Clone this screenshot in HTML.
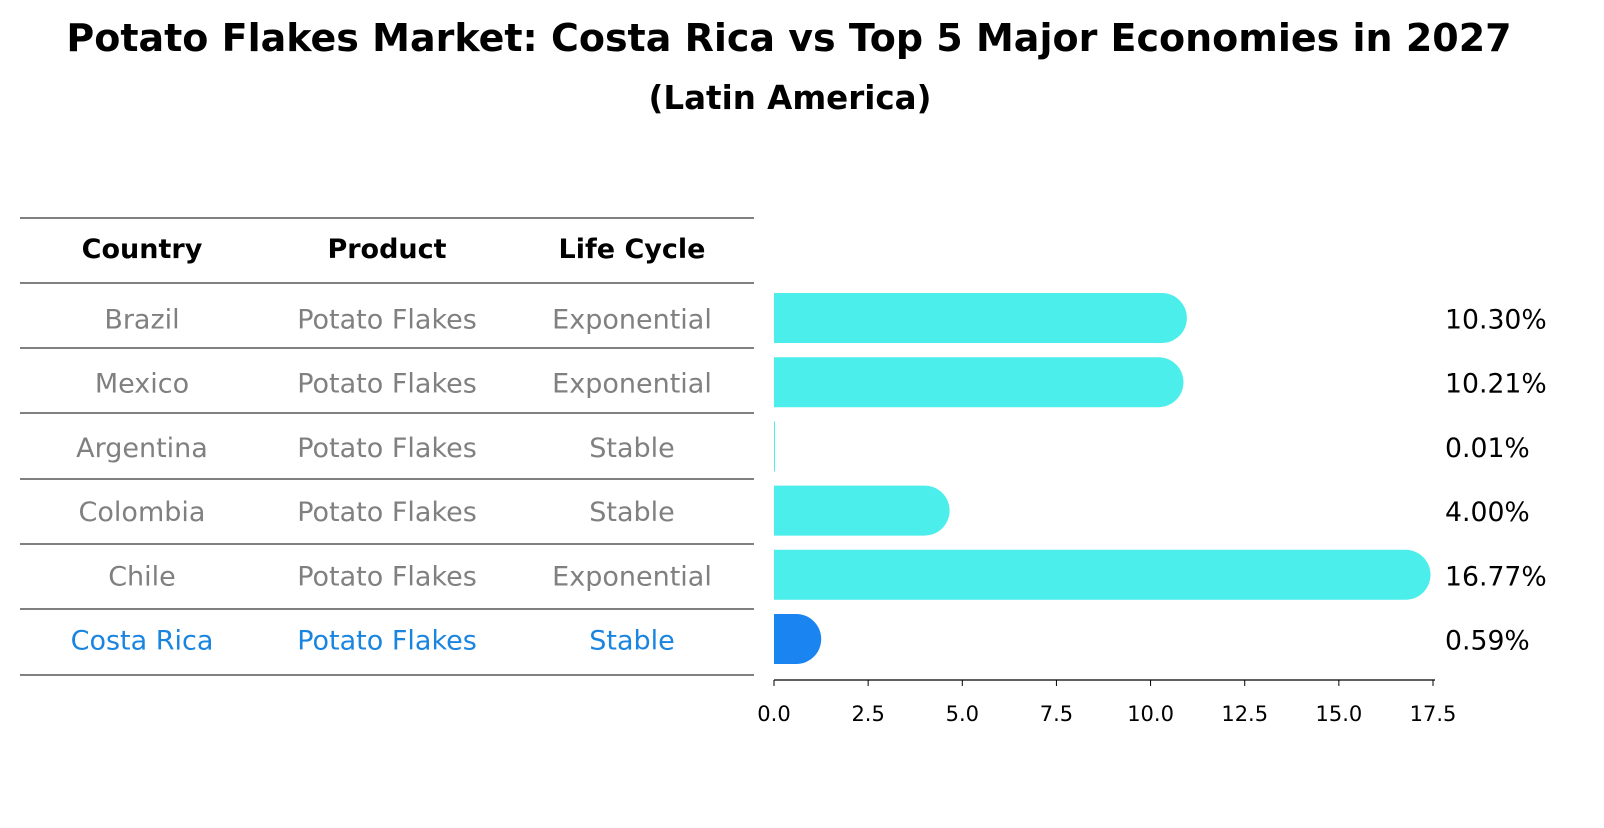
<!DOCTYPE html>
<html><head><meta charset="utf-8"><style>
body{margin:0;background:#fff;font-family:"Liberation Sans","DejaVu Sans",sans-serif;}
svg text{font-family:"DejaVu Sans","Liberation Sans",sans-serif;}
</style></head><body>
<svg width="1604" height="823" xmlns="http://www.w3.org/2000/svg">
<text x="789" y="51" text-anchor="middle" font-size="38" font-weight="bold">Potato Flakes Market: Costa Rica vs Top 5 Major Economies in 2027</text>
<text x="790" y="109" text-anchor="middle" font-size="32.5" font-weight="bold">(Latin America)</text>
<g id="table"></g>
<g id="bars"></g>
</svg>
<script>
const countries=["Brazil","Mexico","Argentina","Colombia","Chile","Costa Rica"];
const products=["Potato Flakes","Potato Flakes","Potato Flakes","Potato Flakes","Potato Flakes","Potato Flakes"];
const lifeCycles=["Exponential","Exponential","Stable","Stable","Exponential","Stable"];
const values=[10.30,10.21,0.01,4.00,16.77,0.59];
const ticks=[0,2.5,5,7.5,10,12.5,15,17.5];
const NS="http://www.w3.org/2000/svg";
function mk(t,a,p){const e=document.createElementNS(NS,t);for(const k in a)e.setAttribute(k,a[k]);p.appendChild(e);return e;}
const x0=774,pxPer=659/17.5;
const xs=v=>x0+v*pxPer;
const rowY=i=>318+i*64.2;
const tbl=document.getElementById('table');
const lineYs=[218,283,348,413,479,544,609,675];
lineYs.forEach((y,i)=>{const l=mk('line',{x1:20,x2:754,y1:y,y2:y,stroke:'#000','stroke-width':1},tbl);

});
const colX=[142,387,632];
["Country","Product","Life Cycle"].forEach((h,j)=>{const t=mk('text',{x:colX[j],y:258,'text-anchor':'middle','font-size':27,'font-weight':'bold'},tbl);t.textContent=h;

});
countries.forEach((c,i)=>{
 const col=i===countries.length-1?'#1a85e0':'#808080';
 [c,products[i],lifeCycles[i]].forEach((s,j)=>{const t=mk('text',{x:colX[j],y:rowY(i)+3,'text-anchor':'middle','font-size':27,fill:col,'dominant-baseline':'middle'},tbl);t.textContent=s;
 
 });
});
const bg=document.getElementById('bars');
const clip=mk('clipPath',{id:'clp'},bg);mk('rect',{x:x0,y:280,width:800,height:400},clip);
values.forEach((v,i)=>{
 const col=i===values.length-1?'#1a85f0':'#4beeea';
 const y=rowY(i);
 const w=xs(v)-x0;
 const g=mk('g',{'clip-path':'url(#clp)'},bg);
 if(v<0.05){const r=mk('rect',{x:x0,y:y-25,width:1,height:50,fill:col},g);
  }
 else{const p=mk('path',{d:`M${x0-25},${y-25} H${x0+w} A25,25 0 0 1 ${x0+w},${y+25} H${x0-25} Z`,fill:col},g);
  }
 const t=mk('text',{x:1445,y:y+3,'font-size':26.7,'dominant-baseline':'middle'},bg);t.textContent=v.toFixed(2)+'%';
 
 
});
const ax=mk('line',{x1:x0,x2:1435,y1:680,y2:680,stroke:'#000','stroke-width':1.2},bg);


ticks.forEach(tv=>{const x=xs(tv);mk('line',{x1:x,x2:x,y1:680,y2:686,stroke:'#000'},bg);
 const t=mk('text',{x:x,y:721,'text-anchor':'middle','font-size':21},bg);t.textContent=tv.toFixed(1);
 
 });
</script>
</body></html>
